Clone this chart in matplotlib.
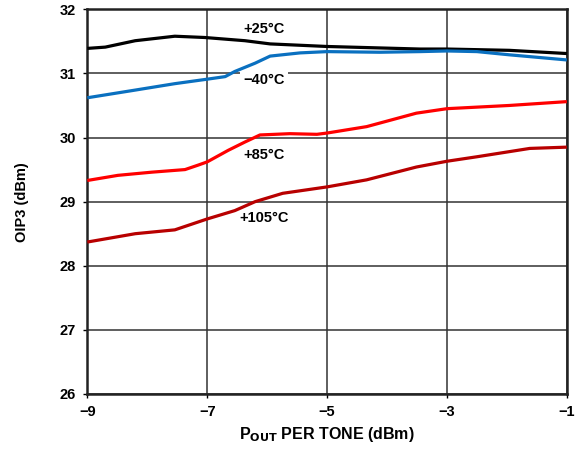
import numpy as np
import matplotlib.pyplot as plt

plt.rcParams['font.family'] = ['Liberation Sans', 'DejaVu Sans']
plt.rcParams['font.weight'] = 'bold'

# values
pout_25 = [-9, -8.7, -8.2, -7.54, -7.04, -6.37, -5.95, -5, -3.45, -3, -1.96, -1]
oip3_25 = [31.39, 31.41, 31.51, 31.58, 31.56, 31.51, 31.46, 31.42, 31.38, 31.38, 31.36, 31.31]

pout_m40 = [-9, -8.2, -7.54, -7, -6.7, -6.54, -6.2, -5.95, -5.45, -5, -4.12, -3.45, -3, -2.5, -1.96, -1]
oip3_m40 = [30.62, 30.74, 30.84, 30.91, 30.95, 31.03, 31.16, 31.27, 31.32, 31.34, 31.33, 31.34,
            31.35, 31.34, 31.29, 31.21]

pout_85 = [-9, -8.49, -7.92, -7.37, -7.15, -7, -6.65, -6.37, -6.12, -5.62, -5.17, -5, -4.34,
           -3.51, -3, -1.96, -1]
oip3_85 = [29.33, 29.41, 29.46, 29.50, 29.57, 29.62, 29.80, 29.93, 30.04, 30.06, 30.05, 30.07,
           30.17, 30.38, 30.45, 30.50, 30.56]

pout_105 = [-9, -8.2, -7.54, -7, -6.54, -6.2, -5.74, -5, -4.34, -3.51, -3, -2.5, -1.62, -1]
oip3_105 = [28.37, 28.50, 28.56, 28.73, 28.86, 29.00, 29.13, 29.23, 29.34, 29.54, 29.63, 29.70,
            29.83, 29.85]

x_ticks = [-9, -7, -5, -3, -1]
x_ticklabels = ['\u22129', '\u22127', '\u22125', '\u22123', '\u22121']
y_ticks = [26, 27, 28, 29, 30, 31, 32]

fig = plt.figure(figsize=(5.82, 4.51), dpi=100)
ax = fig.add_axes([0.15, 0.1264, 0.824, 0.853])

line_kw = dict(lw=2.3, zorder=3, solid_joinstyle='round', solid_capstyle='butt')
ax.plot(pout_25, oip3_25, color='black', **line_kw)
ax.plot(pout_m40, oip3_m40, color='#0a70c0', **line_kw)
ax.plot(pout_85, oip3_85, color='#ff0000', **line_kw)
ax.plot(pout_105, oip3_105, color='#b80000', **line_kw)

lbl = dict(fontsize=10.5, fontweight='bold', ha='center', va='center', zorder=2.5)
ax.text(-6.05, 31.69, '+25°C', **lbl)
ax.text(-6.05, 30.9, '\u221240°C', bbox=dict(facecolor='white', edgecolor='none', pad=2.5), **lbl)
ax.text(-6.05, 29.72, '+85°C', **lbl)
ax.text(-6.05, 28.74, '+105°C', **lbl)

ax.set_xlim(-9, -1)
ax.set_ylim(26, 32)
ax.set_xticks(x_ticks)
ax.set_xticklabels(x_ticklabels)
ax.set_yticks(y_ticks)
ax.tick_params(length=3, width=1, labelsize=10.5, pad=5)
for t in ax.get_xticklabels() + ax.get_yticklabels():
    t.set_fontweight('bold')
ax.grid(True, color='#333333', lw=1.1, zorder=1)
for s in ax.spines.values():
    s.set_linewidth(1.8)
    s.set_color('#222222')

ax.set_xlabel(r'P$_{\mathbf{OUT}}$ PER TONE (dBm)', fontsize=11.5, fontweight='bold', labelpad=4)
ax.set_ylabel('OIP3 (dBm)', fontsize=10.5, fontweight='bold', labelpad=22)

fig.savefig('out.png', dpi=100)
